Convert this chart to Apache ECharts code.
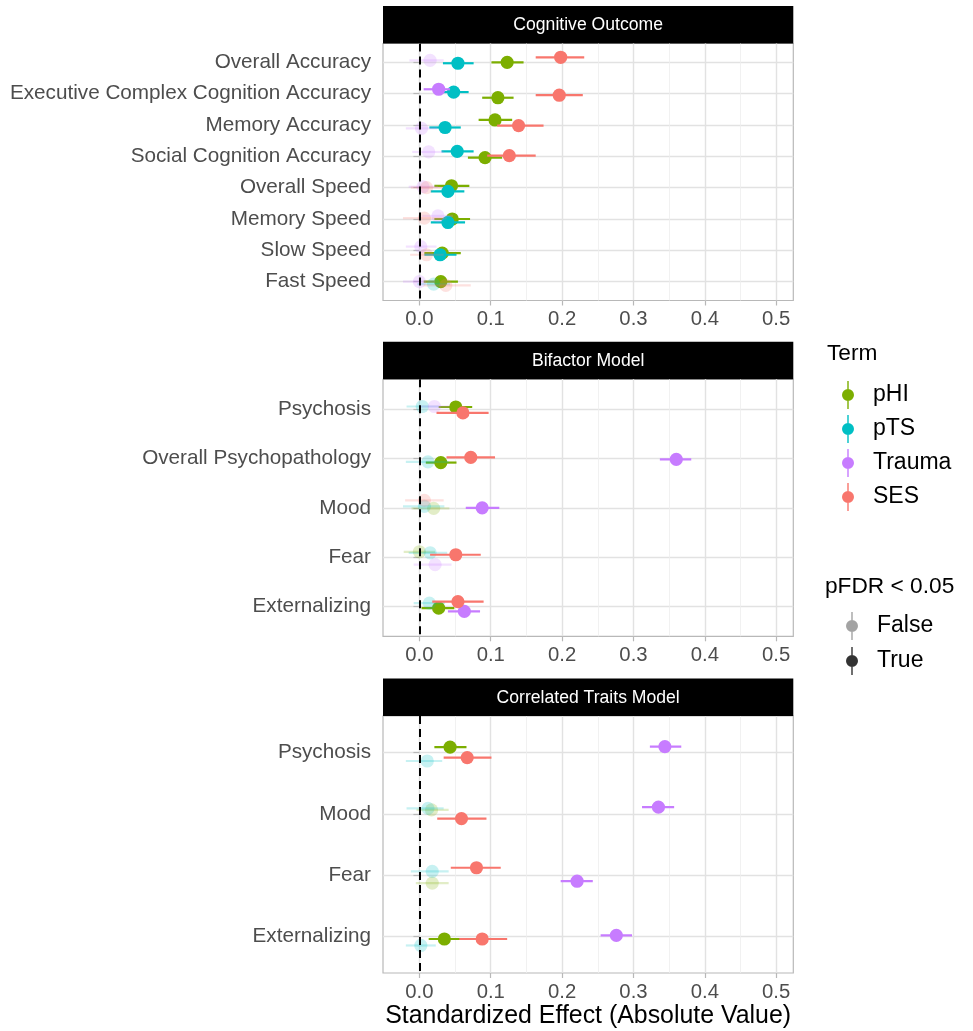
<!DOCTYPE html>
<html>
<head>
<meta charset="utf-8">
<script src="https://cdn.jsdelivr.net/npm/echarts@6/dist/echarts.min.js"></script>
<style>
  html, body { margin: 0; padding: 0; background: #fff; }
  #chart { width: 973px; height: 1031px; }
</style>
</head>
<body>
<div id="chart"></div>
<script>
// ---- data -------------------------------------------------------------
const terms = ['pHI', 'pTS', 'Trauma', 'SES'];
const termColors = { pHI: '#7CAE00', pTS: '#00BFC4', Trauma: '#C77CFF', SES: '#F8766D' };
const effectTicks = [0, 0.1, 0.2, 0.3, 0.4, 0.5];
const effectMinorTicks = [0.05, 0.15, 0.25, 0.35, 0.45];

// Cognitive outcomes
const cognitiveOutcomes = ['Overall Accuracy', 'Executive Complex Cognition Accuracy', 'Memory Accuracy',
  'Social Cognition Accuracy', 'Overall Speed', 'Memory Speed', 'Slow Speed', 'Fast Speed'];
const cognitiveEstimate = {
  pHI:    [0.123, 0.110, 0.106, 0.092, 0.045, 0.046, 0.032, 0.030],
  pTS:    [0.054, 0.048, 0.036, 0.053, 0.040, 0.040, 0.029, 0.020],
  Trauma: [0.015, 0.027, 0.003, 0.013, 0.005, 0.026, 0.002, 0.000],
  SES:    [0.198, 0.196, 0.139, 0.126, 0.010, 0.007, 0.010, 0.037]
};
const cognitiveLower = {
  pHI:    [0.101, 0.088, 0.083, 0.068, 0.021, 0.021, 0.007, 0.006],
  pTS:    [0.033, 0.027, 0.014, 0.031, 0.016, 0.016, 0.007, -0.003],
  Trauma: [-0.014, 0.006, -0.019, -0.010, -0.015, 0.004, -0.019, -0.023],
  SES:    [0.163, 0.163, 0.109, 0.095, -0.012, -0.023, -0.013, 0.006]
};
const cognitiveUpper = {
  pHI:    [0.146, 0.132, 0.130, 0.116, 0.070, 0.071, 0.058, 0.054],
  pTS:    [0.076, 0.069, 0.058, 0.076, 0.063, 0.064, 0.052, 0.043],
  Trauma: [0.034, 0.043, 0.025, 0.034, 0.026, 0.047, 0.024, 0.022],
  SES:    [0.231, 0.229, 0.174, 0.163, 0.033, 0.038, 0.034, 0.072]
};
const cognitiveSignificant = {
  pHI:    [1, 1, 1, 1, 1, 1, 1, 1],
  pTS:    [1, 1, 1, 1, 1, 1, 1, 0],
  Trauma: [0, 1, 0, 0, 0, 0, 0, 0],
  SES:    [1, 1, 1, 1, 0, 0, 0, 0]
};
const cognitiveJitter = {
  pHI:    [0, 0.13, -0.16, 0.04, -0.06, 0, 0.09, 0],
  pTS:    [0.03, -0.05, 0.08, -0.16, 0.12, 0.11, 0.14, 0.08],
  Trauma: [-0.06, -0.14, 0.11, -0.14, -0.03, -0.10, -0.12, 0],
  SES:    [-0.16, 0.05, 0.02, -0.02, 0, -0.03, 0.14, 0.12]
};

// Bifactor model
const bifactorFactors = ['Psychosis', 'Overall Psychopathology', 'Mood', 'Fear', 'Externalizing'];
const bifactorEstimate = {
  pHI:    [0.051, 0.030, 0.020, 0.000, 0.027],
  pTS:    [0.004, 0.012, 0.007, 0.015, 0.014],
  Trauma: [0.021, 0.360, 0.088, 0.022, 0.063],
  SES:    [0.061, 0.072, 0.007, 0.051, 0.054]
};
const bifactorLower = {
  pHI:    [0.027, 0.009, -0.011, -0.022, 0.003],
  pTS:    [-0.018, -0.019, -0.023, -0.015, -0.008],
  Trauma: [0.000, 0.337, 0.065, -0.008, 0.040],
  SES:    [0.024, 0.038, -0.020, 0.015, 0.018]
};
const bifactorUpper = {
  pHI:    [0.074, 0.052, 0.042, 0.022, 0.049],
  pTS:    [0.027, 0.041, 0.035, 0.039, 0.036],
  Trauma: [0.042, 0.381, 0.112, 0.045, 0.085],
  SES:    [0.097, 0.106, 0.034, 0.086, 0.090]
};
const bifactorSignificant = {
  pHI:    [1, 1, 0, 0, 1],
  pTS:    [0, 0, 0, 0, 0],
  Trauma: [0, 1, 1, 0, 1],
  SES:    [1, 1, 0, 1, 1]
};
const bifactorJitter = {
  pHI:    [-0.04, 0.085, 0.01, -0.11, 0.03],
  pTS:    [-0.05, 0.07, -0.03, -0.09, -0.07],
  Trauma: [-0.05, 0.02, 0, 0.15, 0.095],
  SES:    [0.08, -0.02, -0.15, -0.05, -0.10]
};

// Correlated traits model
const traitFactors = ['Psychosis', 'Mood', 'Fear', 'Externalizing'];
const traitEstimate = {
  pHI:    [0.043, 0.017, 0.018, 0.035],
  pTS:    [0.011, 0.012, 0.018, 0.002],
  Trauma: [0.344, 0.335, 0.221, 0.276],
  SES:    [0.067, 0.059, 0.080, 0.088]
};
const traitLower = {
  pHI:    [0.021, -0.004, -0.005, 0.013],
  pTS:    [-0.019, -0.018, -0.012, -0.019],
  Trauma: [0.323, 0.312, 0.198, 0.254],
  SES:    [0.034, 0.025, 0.044, 0.056]
};
const traitUpper = {
  pHI:    [0.066, 0.041, 0.041, 0.057],
  pTS:    [0.032, 0.034, 0.041, 0.023],
  Trauma: [0.367, 0.357, 0.243, 0.298],
  SES:    [0.101, 0.094, 0.114, 0.123]
};
const traitSignificant = {
  pHI:    [1, 0, 0, 1],
  pTS:    [0, 0, 0, 0],
  Trauma: [1, 1, 1, 1],
  SES:    [1, 1, 1, 1]
};
const traitJitter = {
  pHI:    [-0.09, -0.065, 0.13, 0.044],
  pTS:    [0.135, -0.09, -0.06, 0.15],
  Trauma: [-0.10, -0.11, 0.10, -0.015],
  SES:    [0.08, 0.077, -0.12, 0.044]
};

const panelTitles = ['Cognitive Outcome', 'Bifactor Model', 'Correlated Traits Model'];

// ---- layout -----------------------------------------------------------
const FONT = '"Liberation Sans", Arial, Helvetica, sans-serif';
const PANEL_LEFT = 383, PANEL_RIGHT = 793.3;
const PANEL_W = PANEL_RIGHT - PANEL_LEFT;
const panelTops = [43.5, 379.3, 716];
const PANEL_H = 257;
const STRIP_H = 37.5;

const panels = [
  { cats: cognitiveOutcomes, est: cognitiveEstimate, lo: cognitiveLower, hi: cognitiveUpper, sig: cognitiveSignificant, jit: cognitiveJitter },
  { cats: bifactorFactors, est: bifactorEstimate, lo: bifactorLower, hi: bifactorUpper, sig: bifactorSignificant, jit: bifactorJitter },
  { cats: traitFactors, est: traitEstimate, lo: traitLower, hi: traitUpper, sig: traitSignificant, jit: traitJitter }
];

const GRID_MAJOR = '#E2E2E2';
const GRID_MINOR = '#EEEEEE';
const BORDER = '#B8B8B8';
const FADED = 0.22;

const grid = [], xAxis = [], yAxis = [], series = [], graphic = [];

// point + horizontal interval for one estimate
function renderPointRange(params, api) {
  const est = api.value(0), y = api.value(1), lo = api.value(2), hi = api.value(3), sig = api.value(4);
  const p = api.coord([est, y]);
  const a = api.coord([lo, y]);
  const b = api.coord([hi, y]);
  const color = api.visual('color');
  const op = sig ? 1 : FADED;
  return {
    type: 'group',
    children: [
      { type: 'line', shape: { x1: a[0], y1: a[1], x2: b[0], y2: b[1] },
        style: { stroke: color, lineWidth: 2.2, opacity: op } },
      { type: 'circle', shape: { cx: p[0], cy: p[1], r: 6.6 },
        style: { fill: color, opacity: op } }
    ]
  };
}

panels.forEach((pnl, i) => {
  const n = pnl.cats.length;
  grid.push({
    left: PANEL_LEFT, top: panelTops[i], width: PANEL_W, height: PANEL_H,
    show: true, borderColor: BORDER, borderWidth: 1.2, backgroundColor: '#fff'
  });

  // major x axis: labels, ticks, major grid
  xAxis.push({
    type: 'value', gridIndex: i, min: -0.051, max: 0.524,
    axisLine: { show: false },
    axisTick: { show: true, length: 5, customValues: effectTicks, lineStyle: { color: BORDER, width: 1.2 } },
    axisLabel: { customValues: effectTicks, formatter: v => v.toFixed(1), color: '#4D4D4D',
      fontSize: 20.3, fontFamily: FONT, margin: 9 },
    splitLine: { show: true, lineStyle: { color: GRID_MAJOR, width: 1.4 } },
    name: i === 2 ? 'Standardized Effect (Absolute Value)' : '',
    nameLocation: 'middle', nameGap: 31,
    nameTextStyle: { color: '#000', fontSize: 24.9, fontFamily: FONT }
  });
  // minor x axis: only minor grid lines
  xAxis.push({
    type: 'value', gridIndex: i, min: -0.051, max: 0.524,
    axisLine: { show: false },
    axisTick: { show: false, customValues: effectMinorTicks },
    axisLabel: { show: false, customValues: effectMinorTicks },
    splitLine: { show: true, lineStyle: { color: GRID_MINOR, width: 0.8 } }
  });

  const catTicks = pnl.cats.map((c, k) => k + 1);
  yAxis.push({
    type: 'value', gridIndex: i, inverse: true, min: 0.4, max: n + 0.6,
    axisLine: { show: false },
    axisTick: { show: true, length: 6, customValues: catTicks, lineStyle: { color: BORDER, width: 1.2 } },
    axisLabel: { customValues: catTicks, formatter: v => pnl.cats[Math.round(v) - 1] || '',
      color: '#4D4D4D', fontSize: 20.7, fontFamily: FONT, margin: 12 },
    splitLine: { show: true, lineStyle: { color: GRID_MAJOR, width: 1.4 } }
  });

  terms.forEach((t, ti) => {
    const data = pnl.cats.map((c, k) => [
      pnl.est[t][k], k + 1 + pnl.jit[t][k], pnl.lo[t][k], pnl.hi[t][k], pnl.sig[t][k]
    ]);
    const s = {
      type: 'custom', name: t, xAxisIndex: i * 2, yAxisIndex: i,
      itemStyle: { color: termColors[t] },
      encode: { x: [0, 2, 3], y: 1 },
      renderItem: renderPointRange,
      data: data,
      silent: true,
      z: 3
    };
    if (ti === 0) {
      s.markLine = {
        silent: true, symbol: 'none', animation: false,
        label: { show: false },
        lineStyle: { color: '#000', type: [8, 5], width: 2 },
        data: [{ xAxis: 0 }]
      };
    }
    series.push(s);
  });

  // facet strip
  const stripTop = panelTops[i] - STRIP_H;
  graphic.push({
    type: 'rect', left: PANEL_LEFT, top: stripTop,
    shape: { width: PANEL_W, height: STRIP_H }, style: { fill: '#000' }, silent: true
  });
  graphic.push({
    type: 'text', x: PANEL_LEFT + PANEL_W / 2, y: stripTop + STRIP_H / 2 + 0.5, silent: true,
    style: { text: panelTitles[i], fill: '#fff', font: '17.6px ' + FONT,
      textAlign: 'center', textVerticalAlign: 'middle' }
  });
});

// placeholders so the significance legend has entries
series.push({ type: 'scatter', name: 'False', xAxisIndex: 0, yAxisIndex: 0, data: [],
  itemStyle: { color: 'rgba(0,0,0,0.45)' } });
series.push({ type: 'scatter', name: 'True', xAxisIndex: 0, yAxisIndex: 0, data: [],
  itemStyle: { color: '#000' } });

// legend glyph: dot with a vertical interval line
const KEY_ICON = 'path://M5.3,0 H6.7 V28 H5.3 Z M0,14 A6,6 0 1,1 12,14 A6,6 0 1,1 0,14 Z';

graphic.push({
  type: 'text', x: 827, y: 354, silent: true,
  style: { text: 'Term', fill: '#000', font: '22.7px ' + FONT, textVerticalAlign: 'middle' }
});
graphic.push({
  type: 'text', x: 825, y: 587, silent: true,
  style: { text: 'pFDR < 0.05', fill: '#000', font: '22.7px ' + FONT, textVerticalAlign: 'middle' }
});

const legendText = { color: '#000', fontSize: 23, fontFamily: FONT, padding: [0, 0, 0, 14] };

const option = {
  animation: false,
  backgroundColor: '#fff',
  grid: grid,
  xAxis: xAxis,
  yAxis: yAxis,
  series: series,
  graphic: graphic,
  legend: [
    {
      data: terms, orient: 'vertical', left: 837, top: 376,
      itemWidth: 12, itemHeight: 28, itemGap: 6, icon: KEY_ICON,
      textStyle: legendText, selectedMode: false
    },
    {
      data: ['False', 'True'], orient: 'vertical', left: 841, top: 607,
      itemWidth: 12, itemHeight: 28, itemGap: 7, icon: KEY_ICON,
      textStyle: legendText, selectedMode: false
    }
  ]
};

const chart = echarts.init(document.getElementById('chart'), null, { renderer: 'canvas' });
chart.setOption(option);
</script>
</body>
</html>
